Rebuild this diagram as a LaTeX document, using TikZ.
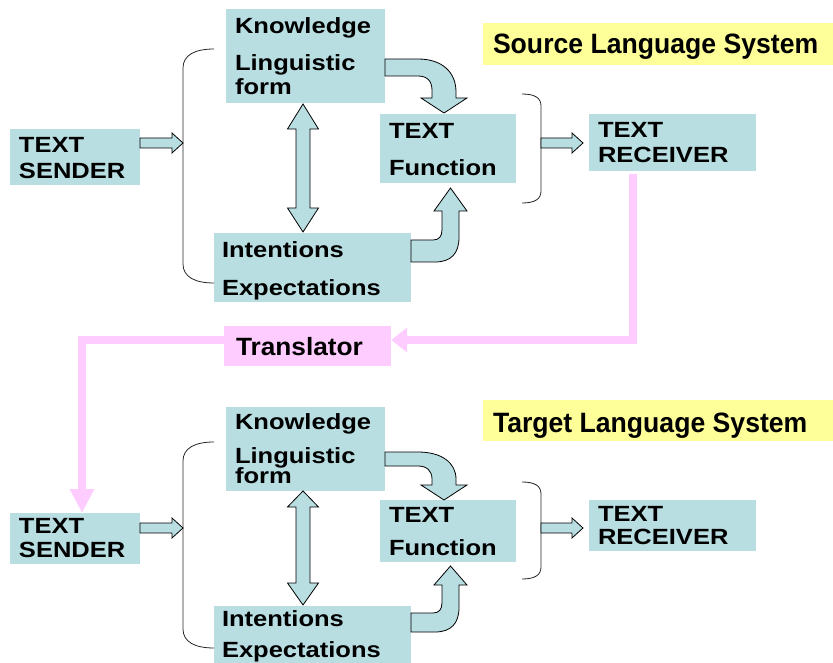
\documentclass[tikz,border=0pt]{standalone}
\usepackage{graphicx}
\usepackage{fontspec}
\setmainfont{Liberation Sans}
\usetikzlibrary{calc,arrows.meta}
\definecolor{boxblue}{RGB}{184,222,226}
\definecolor{tpink}{RGB}{255,204,255}
\definecolor{tyellow}{RGB}{255,255,153}
% widened box lettering, slightly narrowed titles
\newcommand\sx[1]{\scalebox{1.16}[1]{#1}}
\newcommand\sy[1]{\scalebox{0.95}[1]{#1}}
\newcommand\sz[1]{\scalebox{1.05}[1]{#1}}
% horizontal block arrow from #1 to tip #2
\newcommand\harrow[2]{%
  \draw[barrow] ($(#1)+(0,-5)$) -- ($(#2)+(-11,-5)$) -- ($(#2)+(-11,-10)$) -- (#2)
    -- ($(#2)+(-11,10)$) -- ($(#2)+(-11,5)$) -- ($(#1)+(0,5)$) -- cycle;}
% vertical double block arrow between #1 (top tip) and #2 (bottom tip)
\newcommand\varrow[4]{%
  \draw[barrow] (#1) -- ($(#1)+(15.5,#3)$) -- ($(#1)+(7,#3)$) -- ($(#2)+(7,-#4)$)
    -- ($(#2)+(15.5,-#4)$) -- (#2) -- ($(#2)+(-15.5,-#4)$) -- ($(#2)+(-7,-#4)$)
    -- ($(#1)+(-7,#3)$) -- ($(#1)+(-15.5,#3)$) -- cycle;}
\begin{document}
\begin{tikzpicture}[x=1pt,y=-1pt,
  box/.style={fill=boxblue,inner sep=0pt,outer sep=0pt},
  lbl/.style={anchor=base west,inner sep=0pt,outer sep=0pt,font=\fontsize{22}{24}\selectfont\bfseries},
  ttl/.style={anchor=base west,inner sep=0pt,outer sep=0pt,font=\fontsize{28}{30}\selectfont\bfseries},
  trl/.style={anchor=base west,inner sep=0pt,outer sep=0pt,font=\fontsize{25}{27}\selectfont\bfseries},
  barrow/.style={fill=boxblue,draw=black,line width=0.8pt,line join=miter},
  bracket/.style={draw=black!85,line width=0.8pt},
  pinkline/.style={draw=tpink,line width=8pt,line join=miter}]
\useasboundingbox (0,0) rectangle (833,663);

% ---------- source language system ----------
\node[fill=tyellow,inner sep=0pt,minimum width=350pt,minimum height=42pt] (src) at (658,44) {};
\node[ttl] (srct) at (493,54) {\sy{Source Language System}};

\node[box,minimum width=130pt,minimum height=56pt] (s1) at (75,157) {};
\node[box,minimum width=159pt,minimum height=94pt] (k1) at (305.5,56) {};
\node[box,minimum width=197pt,minimum height=69pt] (i1) at (312.5,267.5) {};
\node[box,minimum width=136pt,minimum height=69pt] (f1) at (448,148.5) {};
\node[box,minimum width=167pt,minimum height=57pt] (r1) at (672.5,142.5) {};

\node[lbl] (s1a) at (19,153) {\sx{TEXT}};
\node[lbl] (s1b) at (19,179) {\sx{SENDER}};
\node[lbl] (k1a) at (235,34) {\sx{Knowledge}};
\node[lbl] (k1b) at (235,71) {\sx{Linguistic}};
\node[lbl] (k1c) at (235,95) {\sx{form}};
\node[lbl] (i1a) at (222,258) {\sx{Intentions}};
\node[lbl] (i1b) at (222,295) {\sx{Expectations}};
\node[lbl] (f1a) at (389,139) {\sx{TEXT}};
\node[lbl] (f1b) at (389,176) {\sx{Function}};
\node[lbl] (r1a) at (598,138) {\sx{TEXT}};
\node[lbl] (r1b) at (598,163) {\sx{RECEIVER}};

% brackets
\draw[bracket] (214,49) .. controls (195,49) and (183,55) .. (183,68) -- (183,264)
  .. controls (183,277) and (195,283) .. (214,283);
\draw[bracket] (522,94) .. controls (535,94) and (541,98) .. (541,106) -- (541,191)
  .. controls (541,199) and (535,203) .. (522,203);

% arrows
\coordinate (lb1m) at (183,143);
\coordinate (s1o) at (s1.east |- lb1m);
\harrow{s1o}{lb1m}
\coordinate (rb1m) at (541,143);
\coordinate (r1i) at ($(r1.west |- rb1m)+(-6,0)$);
\harrow{rb1m}{r1i}
\coordinate (dt1) at ($(k1.south)+(-2.5,1)$);
\coordinate (db1) at ($(i1.north)+(-9.5,-1)$);
\varrow{dt1}{db1}{25}{24}

\begin{scope}[shift={(k1.east)}]
  \draw[barrow] (0,3) -- (33,3) .. controls (57,3) and (71,16) .. (71,36) -- (71,42)
    -- (82,42) -- (59,57) -- (36,42) -- (47,42) -- (47,34)
    .. controls (47,25) and (42,20) .. (33,20) -- (0,20) -- cycle;
\end{scope}
\begin{scope}[shift={(i1.east)}]
  \draw[barrow] (0,-5.5) -- (24,-5.5) .. controls (40,-5.5) and (48,-14) .. (48,-30)
    -- (48,-56.5) -- (56,-56.5) -- (39.5,-79.5) -- (23,-56.5) -- (31,-56.5) -- (31,-38)
    .. controls (31,-31) and (28,-27.5) .. (22,-27.5) -- (0,-27.5) -- cycle;
\end{scope}

% ---------- translator ----------
\node[fill=tpink,inner sep=0pt,minimum width=167pt,minimum height=40pt] (tr) at (307.5,346) {};
\node[trl] (trt) at (236,355) {\sz{Translator}};

% ---------- target language system ----------
\node[fill=tyellow,inner sep=0pt,minimum width=350pt,minimum height=41pt] (tgt) at (658,420.5) {};
\node[ttl] (tgtt) at (493,432) {\sy{Target Language System}};

\node[box,minimum width=130pt,minimum height=51pt] (s2) at (75,538.5) {};
\node[box,minimum width=159pt,minimum height=84pt] (k2) at (305.5,449) {};
\node[box,minimum width=197pt,minimum height=57pt] (i2) at (312.5,634.5) {};
\node[box,minimum width=136pt,minimum height=62pt] (f2) at (448,531) {};
\node[box,minimum width=167pt,minimum height=51pt] (r2) at (672.5,525.5) {};

\node[lbl] (s2a) at (19,533) {\sx{TEXT}};
\node[lbl] (s2b) at (19,557) {\sx{SENDER}};
\node[lbl] (k2a) at (235,429) {\sx{Knowledge}};
\node[lbl] (k2b) at (235,463) {\sx{Linguistic}};
\node[lbl] (k2c) at (235,483) {\sx{form}};
\node[lbl] (i2a) at (222,626) {\sx{Intentions}};
\node[lbl] (i2b) at (222,657) {\sx{Expectations}};
\node[lbl] (f2a) at (389,522) {\sx{TEXT}};
\node[lbl] (f2b) at (389,555) {\sx{Function}};
\node[lbl] (r2a) at (598,521) {\sx{TEXT}};
\node[lbl] (r2b) at (598,544) {\sx{RECEIVER}};

\draw[bracket] (214,442) .. controls (195,442) and (183,448) .. (183,461) -- (183,629)
  .. controls (183,642) and (195,648) .. (214,648);
\draw[bracket] (522,482) .. controls (535,482) and (541,486) .. (541,494) -- (541,567)
  .. controls (541,575) and (535,579) .. (522,579);

\coordinate (lb2m) at (183,528);
\coordinate (s2o) at (s2.east |- lb2m);
\harrow{s2o}{lb2m}
\coordinate (rb2m) at (541,528);
\coordinate (r2i) at ($(r2.west |- rb2m)+(-6,0)$);
\harrow{rb2m}{r2i}
\coordinate (dt2) at ($(k2.south)+(-2.5,0)$);
\coordinate (db2) at ($(i2.north)+(-9.5,-1)$);
\varrow{dt2}{db2}{16}{22}

\begin{scope}[shift={(k2.east)}]
  \draw[barrow] (0,3) -- (33,3) .. controls (57,3) and (71,14) .. (71,30) -- (71,36)
    -- (82,36) -- (59,51) -- (36,36) -- (47,36) -- (47,30)
    .. controls (47,22) and (42,17) .. (33,17) -- (0,17) -- cycle;
\end{scope}
\begin{scope}[shift={(i2.east)}]
  \draw[barrow] (0,-2.5) -- (24,-2.5) .. controls (40,-2.5) and (48,-11) .. (48,-27)
    -- (48,-49.5) -- (56,-49.5) -- (39.5,-68.5) -- (23,-49.5) -- (31,-49.5) -- (31,-32)
    .. controls (31,-25) and (28,-21.5) .. (22,-21.5) -- (0,-21.5) -- cycle;
\end{scope}

% ---------- pink feedback path through the translator ----------
\draw[pinkline,-{Triangle[length=16pt 0 0,width=24pt 0 0]}]
  ($(r1.south west)+(44,3)$) |- ($(tr.east)+(0,-6)$);
\draw[pinkline,-{Triangle[length=24pt 0 0,width=23pt 0 0]}]
  ($(tr.west)+(0,-6)$) -| ($(s2.north)+(7,0)$);
\end{tikzpicture}
\end{document}
